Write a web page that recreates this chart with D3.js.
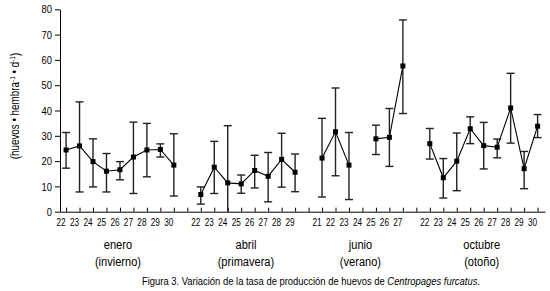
<!DOCTYPE html>
<html>
<head>
<meta charset="utf-8">
<script src="https://cdn.jsdelivr.net/npm/d3@7"></script>
<style>
  body { margin: 0; background: #fff; }
  svg text { font-family: "Liberation Sans Narrow", "Arial Narrow", "Liberation Sans", sans-serif; fill: #000; }
</style>
</head>
<body>
<div id="chart"></div>
<script>
// dias de muestreo por mes, media y limites de la barra de error
const eneroDias = [22, 23, 24, 25, 26, 27, 28, 29, 30];
const eneroMedia = [24.4, 26.0, 19.8, 16.0, 16.6, 21.6, 24.4, 24.6, 18.4];
const eneroMin = [17.2, 7.8, 9.8, 7.8, 12.6, 7.2, 13.8, 21.6, 6.2];
const eneroMax = [31.3, 43.4, 28.8, 23.0, 19.8, 35.4, 34.9, 26.8, 30.8];

const abrilDias = [22, 23, 24, 25, 26, 27, 28, 29];
const abrilMedia = [6.8, 17.6, 11.4, 11.0, 16.3, 14.0, 20.7, 15.6];
const abrilMin = [3.0, 7.2, 0, 7.3, 9.4, 3.9, 9.7, 7.9];
const abrilMax = [9.8, 27.8, 34.0, 14.5, 22.3, 23.4, 31.0, 22.8];

const junioDias = [21, 22, 23, 24, 25, 26, 27];
const junioMedia = [21.2, 31.6, 18.4, null, 28.8, 29.4, 57.6];
const junioMin = [5.8, 14.2, 4.8, null, 22.6, 17.9, 38.8];
const junioMax = [36.9, 48.9, 31.3, null, 34.2, 40.8, 75.8];

const octubreDias = [22, 23, 24, 25, 26, 27, 28, 29, 30];
const octubreMedia = [26.9, 13.4, 20.0, 32.8, 26.1, 25.5, 41.0, 17.0, 33.8];
const octubreMin = [20.8, 5.4, 8.3, 26.9, 16.9, 21.3, 27.1, 9.1, 29.3];
const octubreMax = [32.9, 21.0, 31.1, 37.5, 35.3, 28.7, 54.7, 23.8, 38.4];

const meses = ["enero", "abril", "junio", "octubre"];
const estaciones = ["(invierno)", "(primavera)", "(verano)", "(otoño)"];
const yTicks = [0, 10, 20, 30, 40, 50, 60, 70, 80];

const width = 550;
const height = 291;
const angosto = 0.82; // la fuente original es condensada

const svg = d3.select("#chart").append("svg")
  .attr("width", width)
  .attr("height", height);

// cada mes ocupa posiciones consecutivas, con un hueco entre meses
const grupos = [
  { dias: eneroDias, media: eneroMedia, min: eneroMin, max: eneroMax },
  { dias: abrilDias, media: abrilMedia, min: abrilMin, max: abrilMax },
  { dias: junioDias, media: junioMedia, min: junioMin, max: junioMax },
  { dias: octubreDias, media: octubreMedia, min: octubreMin, max: octubreMax }
];
let pos = 0;
grupos.forEach((g, k) => {
  g.inicio = pos;
  g.mes = meses[k];
  g.estacion = estaciones[k];
  g.puntos = g.dias.map((d, i) => ({
    idx: pos + i, dia: d, media: g.media[i], min: g.min[i], max: g.max[i]
  }));
  pos += g.dias.length + 1;
});
const nPos = pos - 1;
const puntos = grupos.flatMap(g => g.puntos);

const x = d3.scaleLinear()
  .domain([-0.45, nPos - 1 + 0.55])
  .range([60, 545]);

const y = d3.scaleLinear()
  .domain([0, 80])
  .range([211.7, 9.3]);

// eje Y
const yAxis = svg.append("g")
  .attr("transform", `translate(${x.range()[0]},0)`)
  .call(d3.axisLeft(y).tickValues(yTicks).tickSize(5).tickSizeOuter(0));
yAxis.select(".domain").attr("stroke", "#000");
yAxis.selectAll(".tick line").attr("stroke", "#000");
yAxis.selectAll(".tick text")
  .attr("x", null)
  .attr("transform", `translate(-8,0) scale(${angosto},1)`)
  .style("font-size", "11.5px");

// eje X con marcas hacia arriba
const xAxis = svg.append("g")
  .attr("transform", `translate(0,${y(0)})`)
  .call(d3.axisBottom(x).tickValues(d3.range(nPos)).tickSize(-4).tickSizeOuter(0).tickFormat(""));
xAxis.select(".domain").attr("stroke", "#000");
xAxis.selectAll(".tick line").attr("stroke", "#000");

// etiquetas de los dias
svg.append("g")
  .selectAll("text")
  .data(puntos)
  .join("text")
  .attr("transform", d => `translate(${x(d.idx) - 5},${y(0) + 14}) scale(${angosto},1)`)
  .attr("text-anchor", "middle")
  .style("font-size", "10px")
  .text(d => d.dia);

// meses y estaciones
const etiquetas = svg.append("g")
  .selectAll("g")
  .data(grupos)
  .join("g")
  .attr("transform", g => `translate(${x(g.inicio + (g.dias.length - 1) / 2) - 2},0) scale(${angosto},1)`);
etiquetas.append("text")
  .attr("y", 249)
  .attr("text-anchor", "middle")
  .style("font-size", "13.5px")
  .text(g => g.mes);
etiquetas.append("text")
  .attr("y", 266)
  .attr("text-anchor", "middle")
  .style("font-size", "13.5px")
  .text(g => g.estacion);

// barras de error
const conDatos = puntos.filter(d => d.media !== null);
const cap = 4;
const barras = svg.append("g")
  .attr("stroke", "#222")
  .attr("stroke-width", 1.4);
barras.selectAll("line.v")
  .data(conDatos)
  .join("line")
  .attr("class", "v")
  .attr("x1", d => x(d.idx))
  .attr("x2", d => x(d.idx))
  .attr("y1", d => y(d.max))
  .attr("y2", d => y(d.min));
barras.selectAll("line.top")
  .data(conDatos)
  .join("line")
  .attr("class", "top")
  .attr("x1", d => x(d.idx) - cap)
  .attr("x2", d => x(d.idx) + cap)
  .attr("y1", d => y(d.max))
  .attr("y2", d => y(d.max));
barras.selectAll("line.bot")
  .data(conDatos.filter(d => d.min > 0))
  .join("line")
  .attr("class", "bot")
  .attr("x1", d => x(d.idx) - cap)
  .attr("x2", d => x(d.idx) + cap)
  .attr("y1", d => y(d.min))
  .attr("y2", d => y(d.min));

// lineas de medias (se cortan donde falta el dato)
const linea = d3.line()
  .defined(d => d.media !== null)
  .x(d => x(d.idx))
  .y(d => y(d.media));
svg.append("g")
  .selectAll("path")
  .data(grupos)
  .join("path")
  .attr("d", g => linea(g.puntos))
  .attr("fill", "none")
  .attr("stroke", "#000")
  .attr("stroke-width", 1.1);

// puntos
svg.append("g")
  .selectAll("rect")
  .data(conDatos)
  .join("rect")
  .attr("x", d => x(d.idx) - 2.5)
  .attr("y", d => y(d.media) - 2.5)
  .attr("width", 5)
  .attr("height", 5)
  .attr("fill", "#000");

// titulo del eje Y
const yLabel = svg.append("text")
  .attr("transform", `translate(19,106) rotate(-90) scale(${angosto},1)`)
  .attr("text-anchor", "middle")
  .style("font-size", "12px");
yLabel.append("tspan").text("(huevos • hembra");
yLabel.append("tspan").attr("baseline-shift", "super").style("font-size", "8px").text("-1");
yLabel.append("tspan").text(" • d");
yLabel.append("tspan").attr("baseline-shift", "super").style("font-size", "8px").text("-1");
yLabel.append("tspan").text(")");

// pie de figura
const pie = svg.append("text")
  .attr("transform", `translate(311,285) scale(${angosto},1)`)
  .attr("text-anchor", "middle")
  .style("font-size", "11.5px");
pie.append("tspan").text("Figura 3. Variación de la tasa de producción de huevos de ");
pie.append("tspan").style("font-style", "italic").text("Centropages furcatus");
pie.append("tspan").text(".");
</script>
</body>
</html>
